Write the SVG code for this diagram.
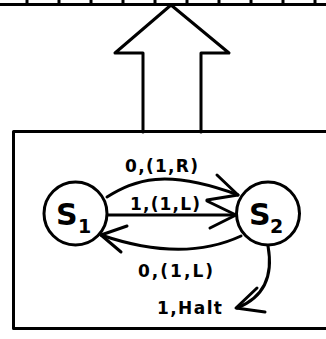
<svg xmlns="http://www.w3.org/2000/svg" width="326" height="339" viewBox="0 0 326 339">
<style>
.ln{fill:none;stroke:#000;stroke-width:3;stroke-linecap:round;stroke-linejoin:round}
.st{fill:#fff;stroke:#000;stroke-width:3}
.lbl{font-family:"DejaVu Sans",sans-serif;font-weight:bold;font-size:17px;fill:#000}
.big{font-family:"DejaVu Sans",sans-serif;font-weight:bold;font-size:30px;fill:#000}
.sub{font-family:"DejaVu Sans",sans-serif;font-weight:bold;font-size:19px;fill:#000}
</style>
<rect width="326" height="339" fill="#fff"/>
<g id="tape">
<path class="ln" stroke-linecap="butt" d="M0 4.5H326 M27 0V4.5 M59 0V4.5 M91 0V4.5 M123 0V4.5 M155 0V4.5 M187 0V4.5 M219 0V4.5 M251 0V4.5 M283 0V4.5 M315 0V4.5"/>
</g>
<g id="head-arrow">
<polyline class="ln" points="143,132 143,53 115,53 171,5 229,53 201,53 201,132"/>
</g>
<g id="machine">
<path class="ln" stroke-linecap="butt" d="M330 131.5H13.5V328.5H330"/>
</g>
<g id="connectors">
<path class="ln" d="M107 197 C135 180,165 168,238 195"/>
<path class="ln" d="M217 175 L238 195 L207 200"/>
<path class="ln" d="M107 215 H236"/>
<path class="ln" d="M207 201 L236 215 L210 228"/>
<path class="ln" d="M241 236 Q183 263 101 235"/>
<path class="ln" d="M127 226 L101 235 L121 252"/>
<path class="ln" d="M268 246 C272 268,270 295,237 308"/>
<path class="ln" d="M257 288 L236 308 L265 312"/>
</g>
<g id="s1">
<circle class="st" cx="75.5" cy="213.5" r="31.5"/>
<text class="big" x="56" y="225">S</text>
<text class="sub" x="78" y="233">1</text>
</g>
<g id="s2">
<circle class="st" cx="268" cy="213.5" r="31.5"/>
<text class="big" x="249" y="225">S</text>
<text class="sub" x="270" y="233">2</text>
</g>
<g id="labels">
<text class="lbl" x="125" y="172" textLength="73" lengthAdjust="spacing">0,(1,R)</text>
<text class="lbl" x="130" y="210" textLength="70" lengthAdjust="spacing">1,(1,L)</text>
<text class="lbl" x="138" y="277" textLength="75" lengthAdjust="spacing">0,(1,L)</text>
<text class="lbl" x="157" y="314" textLength="65" lengthAdjust="spacing">1,Halt</text>
</g>
</svg>
